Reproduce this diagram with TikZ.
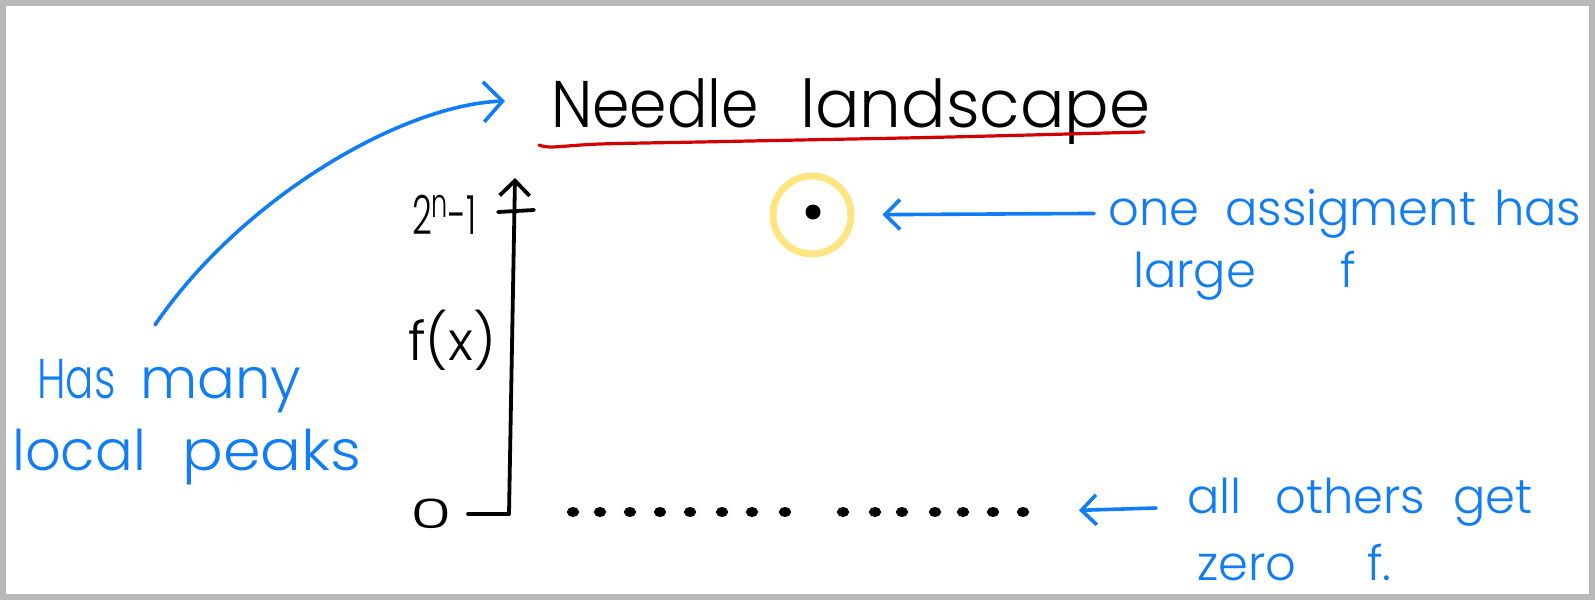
\documentclass[tikz,border=0pt]{standalone}
\usepackage{fontspec}
\setmainfont{Poppins Light}
\usetikzlibrary{arrows.meta,shapes.geometric}
\definecolor{pen}{RGB}{16,124,245}
\definecolor{hl}{RGB}{253,229,130}
\definecolor{redpen}{RGB}{210,0,0}
\definecolor{framegray}{RGB}{185,185,185}
\newcommand{\narrowed}[2]{\scalebox{#1}[1]{#2}}
\begin{document}
\begin{tikzpicture}[x=1pt,y=-1pt,
  pentext/.style={text=pen,anchor=base west,inner sep=0pt},
  inktext/.style={text=black,anchor=base west,inner sep=0pt},
  penline/.style={draw=pen,line width=3.6pt,line cap=round,line join=round},
  inkline/.style={draw=black,line width=3.8pt,line cap=round,line join=round},
  chev/.style={-{Straight Barb[length=15pt,width=30pt]}},
  bigchev/.style={-{Straight Barb[length=19pt,width=40pt]}},
  dotring/.style={ellipse,draw=black,line width=4.8pt,minimum width=7pt,minimum height=5pt,inner sep=0pt}]
\useasboundingbox (0,0) rectangle (1595,600);
\draw[draw=framegray,line width=6pt] (3,3) rectangle (1592,597);

% title
\node[inktext,font=\fontsize{66}{66}\selectfont] (title) at (551,127) {\makebox[249pt][l]{\narrowed{0.91}{Needle}}landscape};
\draw[draw=redpen,line width=3.2pt,line cap=round] plot[smooth] coordinates {(539,145) (552,147) (600,144) (700,142) (800,140) (950,137) (1144,132)};

% axis
\coordinate (ax0) at (509,514);
\coordinate (axtop) at (515,178);
\draw[inkline,chev] (ax0) -- (axtop);
\coordinate (tk0) at (468,514);
\draw[inkline] (tk0) -- (ax0);
\coordinate (tt0) at (498,212);
\coordinate (tt1) at (534,210);
\draw[inkline] (tt0) -- (tt1);

\node[inktext,font=\fontsize{54}{54}\selectfont] (ytop) at (412,234) {\narrowed{0.64}{2\raisebox{17pt}{\fontsize{40}{40}\selectfont n}-1}};
\node[inktext,font=\fontsize{54}{54}\selectfont] (fx) at (408,360) {f(x)};
\node[inktext,font=\fontsize{52}{52}\selectfont] (yzero) at (410,528) {\scalebox{1.3}[0.78]{0}};

% needle
\node[circle,draw=hl,line width=7pt,minimum size=78pt,inner sep=0pt] (peak) at (812,215) {};
\node[circle,fill=black,minimum size=15pt,inner sep=0pt] (needle) at (813,212) {};

% other assignments
\foreach \x [count=\i] in {573,600,630,660,690,722,752,785,843,875,902,935,963,993,1023}
  \node[dotring] (d\i) at (\x,512) {};

% right notes
\node[pentext,font=\fontsize{48}{48}\selectfont] (note1) at (1108,225) {\makebox[117pt][l]{one}\makebox[269pt][l]{assigment}has};
\node[pentext,font=\fontsize{48}{48}\selectfont] (note2) at (1133,287) {\makebox[207pt][l]{large}f};
\node[pentext,font=\fontsize{48}{48}\selectfont] (note3) at (1187,513) {\makebox[88pt][l]{all}\makebox[178pt][l]{others}get};
\node[pentext,font=\fontsize{48}{48}\selectfont] (note4) at (1197,580) {\makebox[170pt][l]{zero}f.};

\draw[penline,chev,shorten <=14pt,shorten >=28pt] (note1.west) -- (peak);
\coordinate (a2s) at (1156,508);
\draw[penline,chev,shorten >=50pt] (a2s) -- (d15);

% left note
\node[pentext,font=\fontsize{56}{56}\selectfont] (hm) at (37,398) {\makebox[103pt][l]{\narrowed{0.75}{Has}}many};
\node[pentext,font=\fontsize{56}{56}\selectfont] (lp) at (12,470) {\makebox[170pt][l]{local}\narrowed{1.08}{peaks}};
\coordinate (c0) at (155,325);
\coordinate (c1) at (505,101);
\draw[penline,bigchev] (c0) .. controls (240,200) and (400,105) .. (c1);
\end{tikzpicture}
\end{document}
